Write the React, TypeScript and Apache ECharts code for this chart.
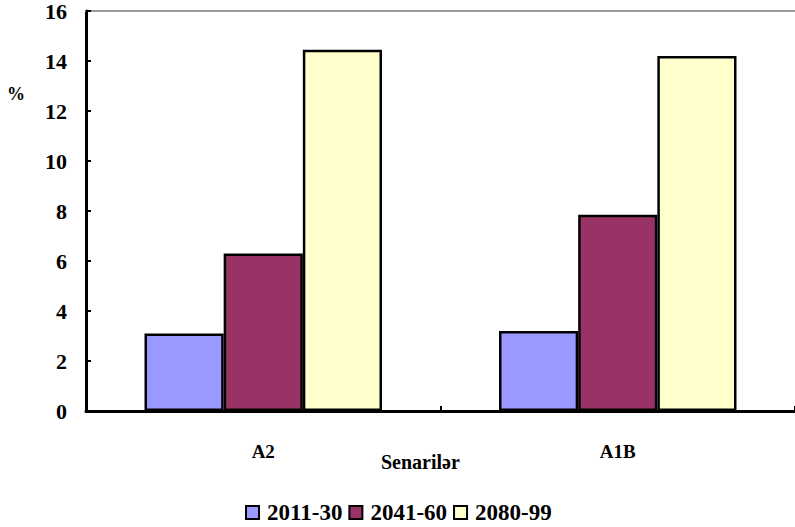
import React, { useEffect, useRef } from "react";
import * as echarts from "echarts";

const categories = ["A2", "A1B"];
const seriesNames = ["2011-30", "2041-60", "2080-99"];
const values2011 = [3.1, 3.2];
const values2041 = [6.3, 7.85];
const values2080 = [14.45, 14.2];
const colors = ["#9999FF", "#993366", "#FFFFCC"];

const FONT = "'Liberation Serif', 'Times New Roman', serif";

export default function App() {
  const ref = useRef<HTMLDivElement>(null);
  useEffect(() => {
    if (!ref.current) return;
    const chart = echarts.init(ref.current, undefined, { renderer: "svg" });
    const data = [values2011, values2041, values2080];
    chart.setOption({
      animation: false,
      backgroundColor: "#ffffff",
      textStyle: { fontFamily: FONT },
      grid: { left: 86, right: -5, top: 9, bottom: 116, containLabel: false },
      legend: {
        left: 240,
        top: 496,
        itemWidth: 13,
        itemHeight: 13,
        itemGap: 6,
        icon: "rect",
        data: seriesNames,
        itemStyle: { borderColor: "#000", borderWidth: 2 },
        textStyle: {
          fontFamily: FONT,
          fontWeight: "bold",
          fontSize: 23,
          color: "#000",
          width: 86,
          padding: [0, 0, 0, 3],
        },
      },
      xAxis: [
        {
          type: "category",
          data: categories,
          position: "bottom",
          axisLine: { show: true, lineStyle: { color: "#000", width: 3 } },
          axisTick: { show: true, inside: true, length: 5, lineStyle: { color: "#000", width: 2 } },
          axisLabel: { fontFamily: FONT, fontWeight: "bold", fontSize: 19, color: "#000", margin: 31 },
        },
        {
          type: "category",
          data: categories,
          position: "top",
          axisLine: { show: true, lineStyle: { color: "#999999", width: 2 } },
          axisTick: { show: false },
          axisLabel: { show: false },
        },
      ],
      yAxis: {
        type: "value",
        min: 0,
        max: 16,
        interval: 2,
        axisLine: { show: true, lineStyle: { color: "#000", width: 3 } },
        axisTick: { show: true, inside: true, length: 5, lineStyle: { color: "#000", width: 2 } },
        splitLine: { show: false },
        axisLabel: {
          fontFamily: FONT,
          fontWeight: "bold",
          fontSize: 22,
          color: "#000",
          margin: 19,
          padding: [10, 0, 0, 0],
        },
      },
      graphic: [
        {
          type: "text",
          left: 7,
          top: 85,
          style: { text: "%", font: `bold 18px ${FONT}`, fill: "#000" },
        },
        {
          type: "text",
          left: 381,
          top: 452,
          style: { text: "Senarilər", font: `bold 20px ${FONT}`, fill: "#000" },
        },
      ],
      series: seriesNames.map((name, i) => ({
        name,
        type: "bar",
        data: data[i],
        barGap: "0%",
        barCategoryGap: "33%",
        itemStyle: { color: colors[i], borderColor: "#000", borderWidth: 2.5 },
      })),
    });
    return () => chart.dispose();
  }, []);
  return (
    <div
      ref={ref}
      style={{ position: "fixed", left: 0, top: 0, width: 795, height: 527 }}
    />
  );
}
